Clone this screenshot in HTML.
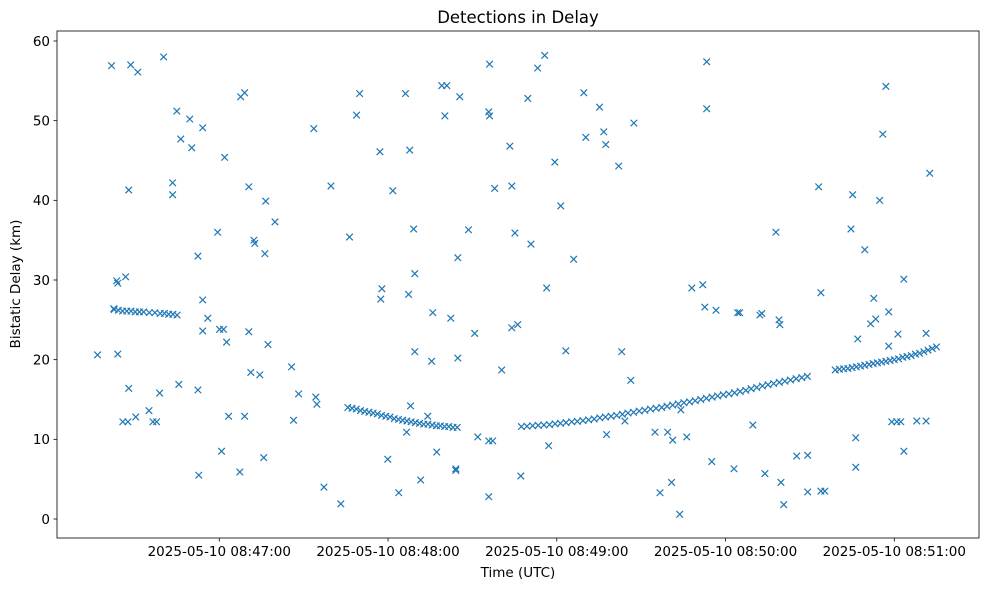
<!DOCTYPE html>
<html><head><meta charset="utf-8"><style>
html,body{margin:0;padding:0;background:#fff;}
svg text{font-family:"DejaVu Sans","Liberation Sans",sans-serif;fill:#000;}
</style></head><body>
<svg id="chart" width="986" height="590" viewBox="0 0 986 590" xmlns="http://www.w3.org/2000/svg">
<rect width="986" height="590" fill="#fff"/>
<text x="518" y="23" font-size="16.5" text-anchor="middle">Detections in Delay</text>
<g id="axes"></g>
<g id="marks"></g>
<rect x="57" y="31" width="922" height="507" fill="none" stroke="#000" stroke-width="0.8"/>
<text x="518" y="577" font-size="13.5" text-anchor="middle">Time (UTC)</text>
<text x="20" y="284" font-size="13.5" text-anchor="middle" transform="rotate(-90 20 284)">Bistatic Delay (km)</text>
</svg>
<script>
// seconds after 08:46:00 and delay in km
const scatterSecs=[16.7,21.7,22.5,23.5,23.9,23.9,25.7,26.7,27.5,27.8,27.8,28.5,31.0,30.3,35.0,36.4,37.7,38.8,40.2,43.4,43.4,44.9,46.3,45.6,49.5,50.2,52.4,52.4,52.7,54.1,54.1,54.1,55.9,59.4,60.8,60.1,61.5,61.9,62.6,63.3,67.3,67.6,69.0,69.0,70.5,70.5,71.2,72.3,72.6,74.4,75.8,76.2,76.5,77.3,79.8,85.7,86.4,88.2,93.6,94.3,94.7,97.2,99.7,103.2,106.3,108.8,109.9,117.1,117.4,117.8,119.9,121.7,123.8,126.2,126.6,127.3,127.7,128.0,129.1,129.5,129.5,131.6,134.1,135.9,135.5,137.3,139.1,140.2,140.9,142.3,144.1,144.1,144.8,144.8,145.5,148.6,150.8,151.9,155.8,156.1,155.8,156.1,155.8,157.2,157.9,160.4,163.3,164.0,164.0,165.1,166.1,167.2,169.7,170.8,173.2,175.7,176.4,177.1,179.3,181.4,183.2,186.0,189.6,190.3,195.2,196.7,197.4,197.7,202.0,203.1,204.2,206.3,207.4,214.9,216.7,219.4,220.8,221.2,223.7,224.1,226.2,228.0,231.9,233.3,233.3,232.6,235.1,236.6,243.0,244.3,245.0,249.7,252.2,252.9,254.0,257.9,259.0,259.3,259.7,260.7,265.3,269.2,269.2,273.1,273.9,273.9,275.3,284.6,285.2,286.3,286.3,287.0,289.5,291.6,292.7,293.4,294.8,295.9,297.0,298.0,298.0,299.1,301.3,300.9,302.3,303.4,303.4,308.0,311.3,311.3,312.6];
const scatterKm=[20.6,56.9,26.4,29.9,29.6,20.7,12.2,30.4,12.2,16.4,41.3,57,56.1,12.8,13.6,12.2,12.2,15.8,58,42.2,40.7,51.2,47.7,16.9,50.2,46.6,16.2,33,5.5,49.1,27.5,23.6,25.2,36,8.5,23.8,23.8,45.4,22.2,12.9,5.9,53,53.5,12.9,41.7,23.5,18.4,35,34.6,18.1,7.7,33.3,39.9,21.9,37.3,19.1,12.4,15.7,49,15.3,14.4,4,41.8,1.9,35.4,50.7,53.4,46.1,27.6,28.9,7.5,41.2,3.3,53.4,10.9,28.2,46.3,14.2,36.4,30.8,21,4.9,12.9,25.9,19.8,8.4,54.4,50.6,54.4,25.2,6.3,6.1,20.2,32.8,53,36.3,23.3,10.3,2.8,57.1,51.1,50.6,9.8,9.8,41.5,18.7,46.8,41.8,24,35.9,24.4,5.4,52.8,34.5,56.6,58.2,29,9.2,44.8,39.3,21.1,32.6,53.5,47.9,51.7,48.6,47,10.6,44.3,21,12.3,17.4,49.7,10.9,3.3,10.9,4.6,9.9,0.6,13.7,10.3,29,29.4,57.4,51.5,26.6,7.2,26.2,6.3,25.9,25.9,11.8,25.6,25.8,5.7,36,25,24.4,4.6,1.8,7.9,3.4,8,41.7,28.4,3.5,3.5,36.4,40.7,6.5,10.2,22.6,33.8,24.5,27.7,25.1,40,48.3,54.3,26,21.7,12.2,23.2,12.2,12.2,8.5,30.1,12.3,12.3,23.3,43.4];
const trackASecs=[22.6,24.1,25.6,27.1,28.6,30.1,31.6,33.1,35.1,37.1,39.0,40.5,42.0,43.5,45.0];
const trackAKm=[26.3,26.2,26.1,26.1,26.1,26.0,26.0,26.0,25.9,25.9,25.8,25.8,25.7,25.7,25.6];
const trackBSecs=[105.7,107.2,108.7,110.2,111.7,113.2,114.7,116.2,117.7,119.2,120.7,122.2,123.7,125.2,126.7,128.2,129.7,131.2,132.7,134.2,135.7,137.2,138.6,140.1,141.6,143.1,144.6];
const trackBKm=[14.0,13.9,13.8,13.6,13.5,13.4,13.3,13.2,13.0,12.9,12.8,12.6,12.5,12.4,12.3,12.2,12.1,12.0,11.9,11.9,11.8,11.7,11.7,11.6,11.6,11.5,11.5];
const trackCSecs=[167.4,169.4,171.4,173.4,175.4,177.4,179.4,181.3,183.3,185.3,187.3,189.3,191.3,193.3,195.3,197.3,199.3,201.3,203.3,205.3,207.3,209.3,211.3,213.3,215.3,217.3,219.2,221.2,223.2,225.2,227.2,229.2,231.2,233.2,235.2,237.2,239.2,241.2,243.2,245.2,247.2,249.1,251.1,253.1,255.1,257.1,259.1,261.1,263.1,265.1,267.1,269.1];
const trackCKm=[11.6,11.65,11.7,11.75,11.8,11.85,11.95,12.0,12.1,12.2,12.25,12.35,12.45,12.55,12.7,12.8,12.9,13.0,13.15,13.3,13.4,13.55,13.65,13.8,13.9,14.0,14.15,14.3,14.45,14.6,14.7,14.85,15.0,15.15,15.3,15.45,15.6,15.7,15.85,16.0,16.15,16.35,16.5,16.7,16.85,17.0,17.15,17.3,17.45,17.6,17.75,17.9];
const trackDSecs=[279,280.5,282,283.5,285,286.5,288,289.5,291,292.5,294,295.5,297,298.5,300,301.5,303,304.5,306,307.5,309,310.5,312,313.5,315];
const trackDKm=[18.7,18.8,18.85,18.9,19.0,19.1,19.2,19.3,19.4,19.5,19.6,19.7,19.8,19.9,20.0,20.1,20.3,20.4,20.5,20.7,20.8,21.0,21.2,21.4,21.6];
const yTicks=[0,10,20,30,40,50,60];
const xTickSecs=[60,120,180,240,300];
const xTickLabels=["2025-05-10 08:47:00","2025-05-10 08:48:00","2025-05-10 08:49:00","2025-05-10 08:50:00","2025-05-10 08:51:00"];

const NS="http://www.w3.org/2000/svg";
function xScale(s){return 219.3+(s-60)*(894.3-219.3)/240;}
function yScale(v){return 519-v*(519-41)/60;}
const axes=document.getElementById('axes');
const marks=document.getElementById('marks');
function mk(tag,attrs,parent){const e=document.createElementNS(NS,tag);for(const k in attrs)e.setAttribute(k,attrs[k]);parent.appendChild(e);return e;}

yTicks.forEach(function(v){
  const y=yScale(v);
  const t=mk('line',{x1:53.5,x2:57,y1:y,y2:y,stroke:'#000','stroke-width':0.8},axes);
  
  
  const l=mk('text',{x:50,y:y+4.8,'font-size':13.5,'text-anchor':'end'},axes);
  l.textContent=String(v);
  
  
});
xTickSecs.forEach(function(s,i){
  const x=xScale(s);
  const t=mk('line',{x1:x,x2:x,y1:538,y2:541.5,stroke:'#000','stroke-width':0.8},axes);
  
  
  const l=mk('text',{x:x,y:556,'font-size':13.5,'text-anchor':'middle'},axes);
  l.textContent=xTickLabels[i];
  
  
});
function drawX(s,v){
  const cx=xScale(s),cy=yScale(v),r=3.3;
  const p=mk('path',{d:'M'+(cx-r)+' '+(cy-r)+'L'+(cx+r)+' '+(cy+r)+'M'+(cx-r)+' '+(cy+r)+'L'+(cx+r)+' '+(cy-r),stroke:'#1f77b4','stroke-width':1.2,fill:'none'},marks);
  
  
}
[[scatterSecs,scatterKm],[trackASecs,trackAKm],[trackBSecs,trackBKm],[trackCSecs,trackCKm],[trackDSecs,trackDKm]].forEach(function(pair){
  for(let i=0;i<pair[0].length;i++)drawX(pair[0][i],pair[1][i]);
});
</script>
</body></html>
